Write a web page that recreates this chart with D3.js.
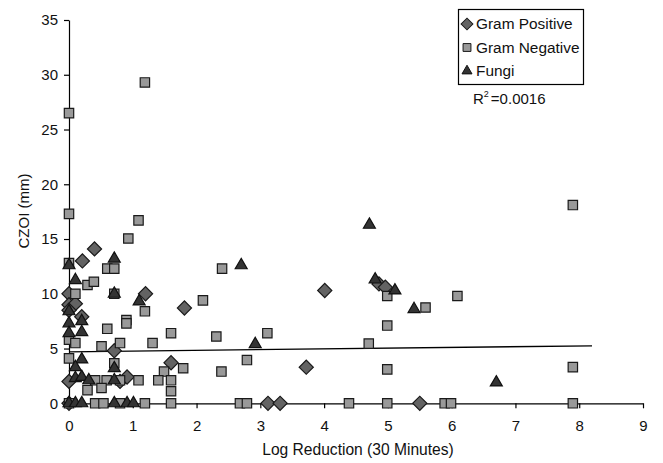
<!DOCTYPE html>
<html>
    <head>
        <meta charset="utf-8">
        <title>CZOI vs Log Reduction</title>
        <script src="https://d3js.org/d3.v7.min.js"></script>
        <style>
            body {
                margin: 0;
                background: #fff;
            }
            svg text {
                font-family: "Liberation Sans", Arial, Helvetica, sans-serif;
                fill: #111;
            }
        </style>
    </head>
    <body>
        <svg></svg>
        <script>
            // 数据: 每组的 x (log reduction) 和 y (CZOI mm)
            const posX = [0.4, 0.21, 0, 0, 0.1, 0, 0.2, 1.2, 1.81, 4.01, 4.86, 4.96, 0.71, 1.6, 3.72, 0, 0.8, 0.91, 0, 3.12, 3.31, 5.5];
            const posY = [14.1, 13.0, 10.0, 9.0, 9.1, 8.5, 7.9, 10.0, 8.7, 10.3, 10.9, 10.6, 4.8, 3.7, 3.3, 2.0, 2.0, 2.4, 0, 0, 0, 0];

            const negX = [0, 1.19, 0, 1.09, 0.93, 0, 0.6, 0.71, 2.4, 0.29, 0.39, 0.1, 0.71, 2.1, 1.19, 0.6, 0.9, 0.9,
                0, 0.1, 0.51, 0.8, 1.31, 1.6, 2.31, 3.11, 0, 0.71, 1.49, 1.79, 2.79, 2.39, 0.41, 0.59, 0.8, 1.09, 1.4, 1.6,
                1.6, 0.29, 0.51, 4.99, 6.09, 5.59, 4.99, 4.7, 4.99, 7.9, 7.9,
                0, 0.41, 0.54, 0.8, 1.19, 1.6, 2.68, 2.79, 4.39, 4.99, 5.89, 5.99, 7.9];
            const negY = [26.5, 29.3, 17.3, 16.7, 15.05, 12.8, 12.3, 12.3, 12.3, 10.8, 11.1, 10.0, 10.0, 9.4, 8.4, 6.8, 7.6, 7.3,
                5.8, 5.5, 5.2, 5.5, 5.5, 6.4, 6.1, 6.4, 4.1, 3.65, 2.9, 3.2, 3.95, 2.9, 2.1, 2.1, 2.1, 2.1, 2.1, 2.1,
                1.1, 1.2, 1.4, 9.8, 9.8, 8.75, 7.1, 5.45, 3.1, 18.1, 3.3,
                0, 0, 0, 0, 0, 0, 0, 0, 0, 0, 0, 0, 0];

            const fungiX = [0, 0.71, 0.1, 0.71, 1.1, 0, 0.2, 0, 0.2, 0, 0.2, 0.71, 0.1, 0.1, 0.2, 0.31, 0.71,
                2.7, 4.71, 4.8, 5.11, 5.41, 2.92, 6.7,
                0, 0.1, 0.2, 0.71, 0.91, 1.01];
            const fungiY = [12.6, 13.2, 11.25, 10.0, 9.3, 8.4, 7.5, 7.3, 6.5, 6.4, 4.0, 3.2, 3.3, 2.3, 2.4, 2.1, 2.1,
                12.6, 16.3, 11.3, 10.3, 8.6, 5.4, 1.9,
                0, 0, 0, 0, 0, 0];

            // 趋势线两端
            const trendX = [0, 8.2];
            const trendY = [4.7, 5.25];

            const xTicks = [0, 1, 2, 3, 4, 5, 6, 7, 8, 9];
            const yTicks = [0, 5, 10, 15, 20, 25, 30, 35];
            const seriesNames = ['Gram Positive', 'Gram Negative', 'Fungi'];

            const width = 663;
            const height = 463;

            const svg = d3.select('svg').attr('width', width).attr('height', height);

            const x = d3.scaleLinear().domain([0, 9]).range([69, 643]);
            const y = d3.scaleLinear().domain([0, 35]).range([403.3, 20]);

            // 坐标轴
            const xAxis = svg.append('g').attr('transform', 'translate(0,' + y(0) + ')')
                .call(d3.axisBottom(x).tickValues(xTicks).tickSize(5).tickPadding(12).tickSizeOuter(0));
            const yAxis = svg.append('g').attr('transform', 'translate(' + x(0) + ',0)')
                .call(d3.axisLeft(y).tickValues(yTicks).tickSize(5).tickPadding(6).tickSizeOuter(0));

            [xAxis, yAxis].forEach(a=>{
                a.selectAll('path, line').attr('stroke', '#000').attr('stroke-width', 1.2);
                a.selectAll('text').attr('font-size', '15px').attr('fill', '#111');
            }
            );

            // 轴标题
            svg.append('text').text('Log Reduction (30 Minutes)')
                .attr('x', 358).attr('y', 455).attr('text-anchor', 'middle').attr('font-size', '15.6px');
            svg.append('text').text('CZOI (mm)')
                .attr('transform', 'translate(29,' + 211 + ') rotate(-90)')
                .attr('text-anchor', 'middle').attr('font-size', '15px');

            // 趋势线
            svg.append('line')
                .attr('x1', x(trendX[0])).attr('y1', y(trendY[0]))
                .attr('x2', x(trendX[1])).attr('y2', y(trendY[1]))
                .attr('stroke', '#000').attr('stroke-width', 1.3);

            const styles = [
                {shape: d3.symbolSquare, size: 100, rotate: 45, fill: '#636363', stroke: '#1a1a1a'},
                {shape: d3.symbolSquare, size: 88, rotate: 0, fill: '#999999', stroke: '#1a1a1a'},
                {shape: d3.symbolTriangle, size: 62, rotate: 0, fill: '#333333', stroke: '#111111'}
            ];

            const groups = [
                {xs: posX, ys: posY},
                {xs: negX, ys: negY},
                {xs: fungiX, ys: fungiY}
            ];

            // 绘制散点
            groups.forEach((g,k)=>{
                const st = styles[k];
                const pts = g.xs.map((v,i)=>({x: v, y: g.ys[i]}));
                svg.append('g').selectAll('path').data(pts).enter().append('path')
                    .attr('d', d3.symbol().type(st.shape).size(st.size))
                    .attr('transform', d=>'translate(' + x(d.x) + ',' + y(d.y) + ') rotate(' + st.rotate + ')')
                    .attr('fill', st.fill).attr('stroke', st.stroke).attr('stroke-width', 1.2);
            }
            );

            // 图例
            const legend = svg.append('g');
            legend.append('rect').attr('x', 458.5).attr('y', 9.5).attr('width', 125).attr('height', 75)
                .attr('fill', '#fff').attr('stroke', '#000').attr('stroke-width', 1.2);

            seriesNames.forEach((name,i)=>{
                const st = styles[i];
                const cy = 24 + i * 23.5;
                legend.append('path')
                    .attr('d', d3.symbol().type(st.shape).size(st.size * 0.7))
                    .attr('transform', 'translate(467,' + cy + ') rotate(' + st.rotate + ')')
                    .attr('fill', st.fill).attr('stroke', st.stroke).attr('stroke-width', 1);
                legend.append('text').text(name).attr('x', 476).attr('y', cy + 5.3).attr('font-size', '15.4px');
            }
            );

            // R^2
            const r2 = svg.append('text').attr('x', 473).attr('y', 103.5).attr('font-size', '15px');
            r2.append('tspan').text('R');
            r2.append('tspan').text('2').attr('font-size', '9px').attr('dy', -7);
            r2.append('tspan').text('=0.0016').attr('dx', 2).attr('dy', 7);
        </script>
    </body>
</html>
